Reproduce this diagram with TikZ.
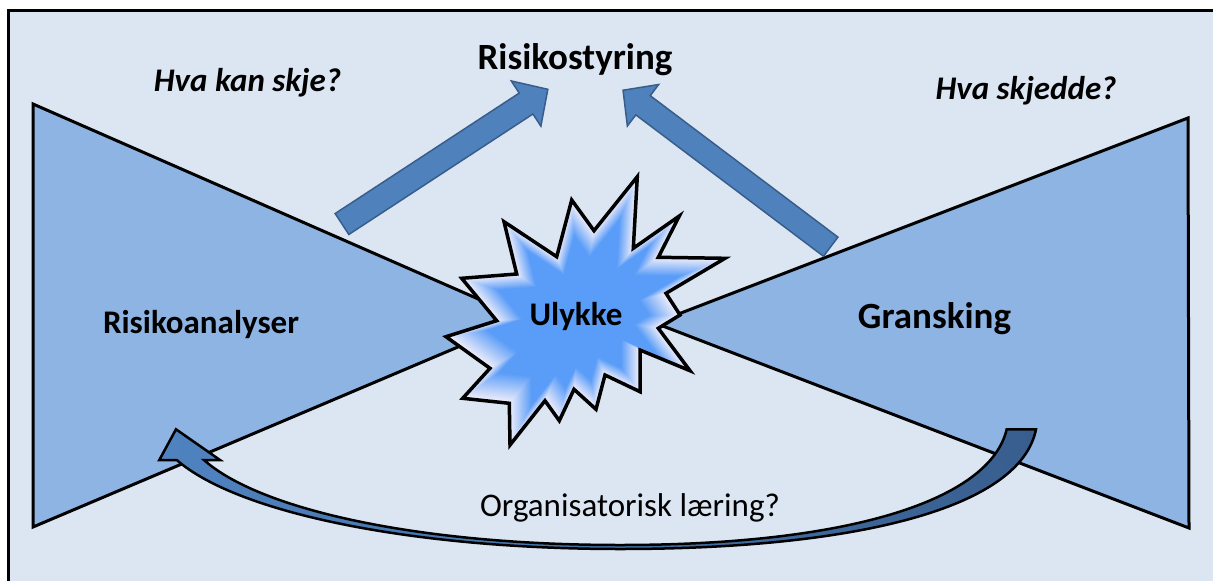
\documentclass[tikz,border=0pt]{standalone}
\usepackage{fontspec}
\setmainfont{Carlito}
\definecolor{bgblue}{RGB}{220,230,242}
\definecolor{wingblue}{RGB}{142,180,227}
\definecolor{arrowfill}{RGB}{79,129,189}
\definecolor{arrowline}{RGB}{56,93,138}
\definecolor{curvelight}{RGB}{79,131,192}
\definecolor{curvedark}{RGB}{56,94,142}
\definecolor{starblue}{RGB}{90,157,248}
\definecolor{starpale}{RGB}{240,238,250}
% outline of the burst, relative to its centre
\def\burst{(57.3,-139.3) -- (53.3,-67.7) -- (99.3,-100) -- (78.3,-58.7) -- (145,-57.7) -- (86,-22.7) -- (100,-1) -- (78.3,12.3) -- (110,54.7) -- (60,34) -- (60,75.7) -- (25,59) -- (16,93.3) -- (-6,73.3) -- (-20.7,104.7) -- (-35,84.7) -- (-70,129) -- (-70.7,87.3) -- (-117.3,82.3) -- (-90,52.3) -- (-134,20.7) -- (-83.3,4.7) -- (-118.3,-37.7) -- (-63.3,-42) -- (-76,-94.3) -- (-23.3,-59.3) -- (-8.3,-116) -- (14,-85.3) -- cycle}
\begin{document}
\begin{tikzpicture}[x=1pt,y=-1pt,
  every node/.style={inner sep=0pt,text=black},
  wing/.style={fill=wingblue,draw=black,line width=3pt,line join=miter},
  blockarrow/.style={fill=arrowfill,draw=arrowline,line width=1.5pt,line join=miter},
  curvearrow/.style={left color=curvelight,right color=curvedark,draw=black,line width=2.5pt,line join=miter},
  headline/.style={font=\fontsize{37}{40}\selectfont\bfseries},
  question/.style={font=\fontsize{33}{36}\selectfont\bfseries\itshape},
  boxlabel/.style={font=\fontsize{33}{36}\selectfont\bfseries},
  biglabel/.style={font=\fontsize{37}{40}\selectfont\bfseries},
  plainlabel/.style={font=\fontsize{33}{36}\selectfont}]
\useasboundingbox (0,0) rectangle (1213,581);
\clip (0,0) rectangle (1213,581);
\fill[white] (0,0) rectangle (1213,581);
% framed background
\filldraw[fill=bgblue,draw=black,line width=3pt] (8.5,10) rectangle (1240,610);
% the two wedges
\filldraw[wing] (33,104) -- (524,319) -- (33,527) -- cycle;
\filldraw[wing] (1188,118) -- (655,323) -- (1189,528) -- cycle;
% burst with a gradient that follows its outline
\foreach \i in {0,...,26}{
  \pgfmathsetmacro\s{1-\i*0.016}
  \pgfmathsetmacro\p{min(100,\i*100/19)}
  \begin{scope}[shift={(580,316)},scale=\s]
    \fill[starblue!\p!starpale] \burst;
  \end{scope}
}
\begin{scope}[shift={(580,316)}]
  \draw[black,line width=3.5pt,line join=miter] \burst;
\end{scope}
% block arrows towards the top heading
\begin{scope}[shift={(342,224)},rotate=33.2]
  \filldraw[blockarrow] (0,-12.5) -- (220,-12.5) -- (220,-27) -- (246,0) -- (220,27) -- (220,12.5) -- (0,12.5) -- cycle;
\end{scope}
\begin{scope}[shift={(830.7,246.7)},rotate=143]
  \filldraw[blockarrow] (0,-12) -- (235,-12) -- (235,-26) -- (260,0) -- (235,26) -- (235,12) -- (0,12) -- cycle;
\end{scope}
% curved return arrow along the bottom
\path[curvearrow] (204,460) -- (220,460) -- (176,429.3) -- (159.3,460) -- (176.7,460)
  .. controls (240,515) and (420,549) .. (620,549)
  .. controls (850,549) and (1020,510) .. (1036,429.3)
  -- (1006.7,429.3)
  .. controls (990,500) and (850,545) .. (620,545)
  .. controls (420,545) and (260,510) .. (204,460) -- cycle;
% texts
\node[headline,anchor=base] (styring) at (575,69) {Risikostyring};
\node[question,anchor=base] (qleft) at (247.5,91) {Hva kan skje?};
\node[question,anchor=base] (qright) at (1026,99) {Hva skjedde?};
\node[boxlabel,anchor=base] (analyse) at (201,333) {Risikoanalyser};
\node[biglabel,anchor=base] (gransk) at (934.5,328) {Gransking};
\node[boxlabel,anchor=base] (ulykke) at (576,325) {Ulykke};
\node[plainlabel,anchor=base] (laering) at (630,516) {Organisatorisk læring?};
\end{tikzpicture}
\end{document}
